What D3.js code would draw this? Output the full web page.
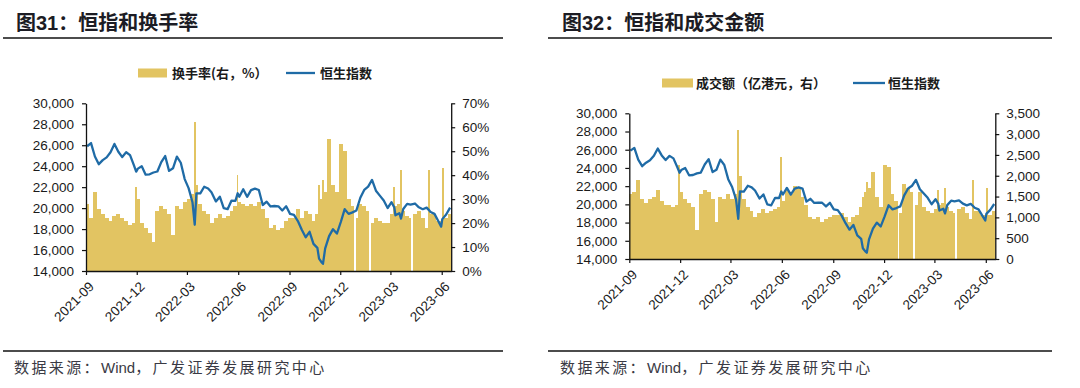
<!DOCTYPE html>
<html><head><meta charset="utf-8">
<script src="https://cdn.jsdelivr.net/npm/d3@7"></script>
<style>
body{margin:0;background:#fff;}
svg{display:block;}
</style></head><body>
<svg id="c" width="1080" height="388"></svg>
<script>
// ---- data (weekly closes plus notable trading days; holidays as null/0) ----
const dates=["2021-09-03","2021-09-10","2021-09-17","2021-09-24","2021-10-01","2021-10-08","2021-10-15","2021-10-22","2021-10-29","2021-11-05","2021-11-12","2021-11-19","2021-11-26","2021-11-30","2021-12-03","2021-12-10","2021-12-17","2021-12-24","2021-12-31","2022-01-07","2022-01-14","2022-01-21","2022-01-28","2022-02-04","2022-02-11","2022-02-18","2022-02-25","2022-03-04","2022-03-11","2022-03-15","2022-03-18","2022-03-25","2022-04-01","2022-04-08","2022-04-14","2022-04-22","2022-04-29","2022-05-06","2022-05-13","2022-05-20","2022-05-27","2022-05-31","2022-06-03","2022-06-10","2022-06-17","2022-06-24","2022-07-01","2022-07-08","2022-07-15","2022-07-22","2022-07-29","2022-08-05","2022-08-12","2022-08-19","2022-08-26","2022-09-02","2022-09-09","2022-09-16","2022-09-23","2022-09-30","2022-10-07","2022-10-14","2022-10-21","2022-10-24","2022-10-28","2022-10-31","2022-11-04","2022-11-11","2022-11-18","2022-11-25","2022-12-02","2022-12-09","2022-12-16","2022-12-23","2022-12-27","2022-12-30","2023-01-06","2023-01-13","2023-01-20","2023-01-24","2023-01-27","2023-02-03","2023-02-10","2023-02-17","2023-02-24","2023-03-03","2023-03-08","2023-03-10","2023-03-17","2023-03-20","2023-03-24","2023-03-31","2023-04-06","2023-04-07","2023-04-14","2023-04-21","2023-04-28","2023-05-05","2023-05-10","2023-05-12","2023-05-19","2023-05-26","2023-05-31","2023-06-02","2023-06-09","2023-06-16"];
const hsi=[25901,26205,24920,24192,24576,24837,25331,26126,25377,24871,25327,25049,24080,23475,23767,23995,23193,23224,23398,23493,24383,24966,23550,23802,24906,24328,22768,21906,20554,18415,21412,21405,22040,21872,21518,20639,21089,20002,19899,20717,20697,21415,21082,21806,21075,21719,21860,21725,20297,20609,20156,20202,20175,19773,20170,19452,19362,18762,17933,17222,17740,16588,16211,15180,14863,14687,16161,17326,17993,17574,18675,19901,19451,19593,null,19781,20991,21738,22045,null,22689,21660,21190,20719,20010,20567,20051,19320,19518,19000,19916,20400,20331,null,20438,20075,19895,20049,19762,19628,19450,18746,18234,18950,19390,20040];
const turnover=[28,22,33,26,24,22,21,23,24,22,21,19,20,35,30,20,18,16,12,25,27,26,24,15,27,26,29,30,32,62,36,28,25,24,20,22,24,22,23,25,27,40,29,28,27,28,27,29,26,22,18,19,17,18,21,22,22,26,22,25,24,21,24,36,30,38,33,55,36,33,53,50,30,27,0,22,28,27,25,0,20,22,21,20,20,24,35,27,28,42,25,23,22,0,24,25,22,18,42,24,24,21,21,43,22,24];
const amount=[1550,1600,1900,1450,1350,1450,1500,1650,1400,1300,1300,1250,1300,2250,1600,1450,1350,1250,700,1550,1650,1600,1450,900,1500,1450,1550,1450,1550,3100,2000,1450,1250,1150,1000,1100,1200,1100,1150,1200,1250,2450,1400,1650,1550,1750,1700,1500,1300,1000,950,1000,900,950,1000,1050,1050,1100,1000,900,1000,1050,1250,1500,1600,1850,1700,2100,1500,1250,2250,2200,1550,1400,0,1100,1800,1700,1600,0,1300,1600,1250,1150,1100,1200,1650,1300,1350,1700,1250,1150,1100,0,1200,1250,1100,950,1900,1150,1150,1050,1050,1700,1050,1150];
const xTickLabels=["2021-09","2021-12","2022-03","2022-06","2022-09","2022-12","2023-03","2023-06"];
const xDomain=["2021-09-01","2023-06-18"];
const indexTicks=[14000,16000,18000,20000,22000,24000,26000,28000,30000];
const turnoverTicks=[0,10,20,30,40,50,60,70];
const amountTicks=[0,500,1000,1500,2000,2500,3000,3500];

const BAR="#E2C462", LINE="#1F6BA6", INK="#1a1a1a";
const NUMF="'Liberation Sans', Arial, 'Noto Sans CJK SC', sans-serif";
const CJKF="'Noto Sans CJK SC', sans-serif";
const parse=d3.timeParse("%Y-%m-%d"), parseM=d3.timeParse("%Y-%m");
const D=dates.map(parse);
const svg=d3.select("#c");

function chart(o){
  const g=svg.append("g");
  // title + rules
  g.append("text").attr("x",o.tx).attr("y",30).text(o.title)
    .attr("font-family",NUMF).attr("font-weight","bold").attr("font-size",20).attr("fill","#1c1c24");
  g.append("line").attr("x1",o.r0).attr("x2",o.r1).attr("y1",38).attr("y2",38).attr("stroke","#111").attr("stroke-width",1.4);
  g.append("line").attr("x1",o.r0).attr("x2",o.r1).attr("y1",351).attr("y2",351).attr("stroke","#111").attr("stroke-width",1.4);
  const ft=g.append("text").attr("x",o.tx-2).attr("y",373)
    .attr("font-family",NUMF).attr("font-size",15).attr("fill","#3a3a44");
  ft.append("tspan").attr("letter-spacing",2.4).text("数据来源：");
  ft.append("tspan").text("Wind");
  ft.append("tspan").attr("letter-spacing",2.4).text("，广发证券发展研究中心");

  const x=d3.scaleTime().domain(xDomain.map(parse)).range([o.x0,o.x1]);
  const yL=d3.scaleLinear().domain([14000,30000]).range([o.yb,o.yt]);
  const yR=d3.scaleLinear().domain([0,o.rmax]).range([o.yb,o.yt]);
  const cid="clip"+o.id;
  g.append("clipPath").attr("id",cid).append("rect").attr("x",o.x0).attr("y",o.yt-20).attr("width",o.x1-o.x0).attr("height",o.yb-o.yt+20);
  const plot=g.append("g").attr("clip-path",`url(#${cid})`);
  const half=i=>{
    const a=i>0?(D[i-1].getTime()+D[i].getTime())/2:D[i].getTime()-3.5*864e5;
    const b=i<D.length-1?(D[i].getTime()+D[i+1].getTime())/2:D[i].getTime()+3.5*864e5;
    return [a,b];
  };
  plot.selectAll("rect.bar").data(o.bars).join("rect").attr("class","bar")
    .attr("x",(d,i)=>x(half(i)[0])).attr("width",(d,i)=>Math.max(0,x(half(i)[1])-x(half(i)[0])))
    .attr("y",d=>yR(d)).attr("height",d=>o.yb-yR(d)).attr("fill",d=>d>0?BAR:"#fff")
    .attr("shape-rendering","crispEdges");
  const pts=D.map((d,i)=>[d,hsi[i]]).filter(p=>p[1]!=null);
  plot.append("path").datum(pts).attr("fill","none").attr("stroke",LINE).attr("stroke-width",2.3)
    .attr("stroke-linejoin","round").attr("d",d3.line().x(p=>x(p[0])).y(p=>yL(p[1])));

  const style=s=>{s.select(".domain").attr("stroke","#111").attr("stroke-width",1.3);
    s.selectAll(".tick line").attr("stroke","#111").attr("stroke-width",1.2);
    s.selectAll("text").attr("font-family",NUMF).attr("font-size",13.5).attr("fill",INK);};
  g.append("g").attr("transform",`translate(${o.x0},0)`)
    .call(d3.axisLeft(yL).tickValues(indexTicks).tickFormat(d3.format(",")).tickSize(4).tickSizeOuter(0).tickPadding(8)).call(style);
  g.append("g").attr("transform",`translate(${o.x1},0)`)
    .call(d3.axisRight(yR).tickValues(o.rticks).tickFormat(o.rfmt).tickSize(4).tickSizeOuter(0).tickPadding(7)).call(style);
  const xa=g.append("g").attr("transform",`translate(0,${o.yb})`)
    .call(d3.axisBottom(x).tickValues(xTickLabels.map(parseM)).tickFormat(d3.timeFormat("%Y-%m")).tickSize(4).tickSizeOuter(0)).call(style);
  xa.selectAll(".tick text").attr("x",0).attr("y",0).attr("dy","0.35em")
    .attr("transform","translate(5,13) rotate(-45)").style("text-anchor","end");

  // legend
  const lg=g.append("g").attr("font-family",CJKF).attr("font-size",13).attr("font-weight","bold").attr("fill",INK);
  lg.append("rect").attr("x",o.lg[0]).attr("y",o.ly-4.5).attr("width",o.lg[1]-o.lg[0]).attr("height",9).attr("fill",BAR);
  lg.append("text").attr("x",o.lg[2]).attr("y",o.ly+4.6).text(o.barName);
  lg.append("line").attr("x1",o.lg[3]).attr("x2",o.lg[4]).attr("y1",o.ly).attr("y2",o.ly).attr("stroke",LINE).attr("stroke-width",2.3);
  lg.append("text").attr("x",o.lg[5]).attr("y",o.ly+4.6).text("恒生指数");
}

chart({id:1,title:"图31：恒指和换手率",tx:16,r0:3,r1:503,x0:86,x1:451.2,yt:103.3,yb:271,
  bars:turnover,rmax:70,rticks:turnoverTicks,rfmt:d=>d+"%",
  ly:73,lg:[138,167,172,286,315,320],barName:"换手率(右，%）"});
chart({id:2,title:"图32：恒指和成交金额",tx:562,r0:548,r1:1052,x0:629.3,x1:995.3,yt:113.3,yb:259,
  bars:amount,rmax:3500,rticks:amountTicks,rfmt:d3.format(","),
  ly:83,lg:[662,693,696,853,885,888],barName:"成交额（亿港元，右）"});
</script>
</body></html>
